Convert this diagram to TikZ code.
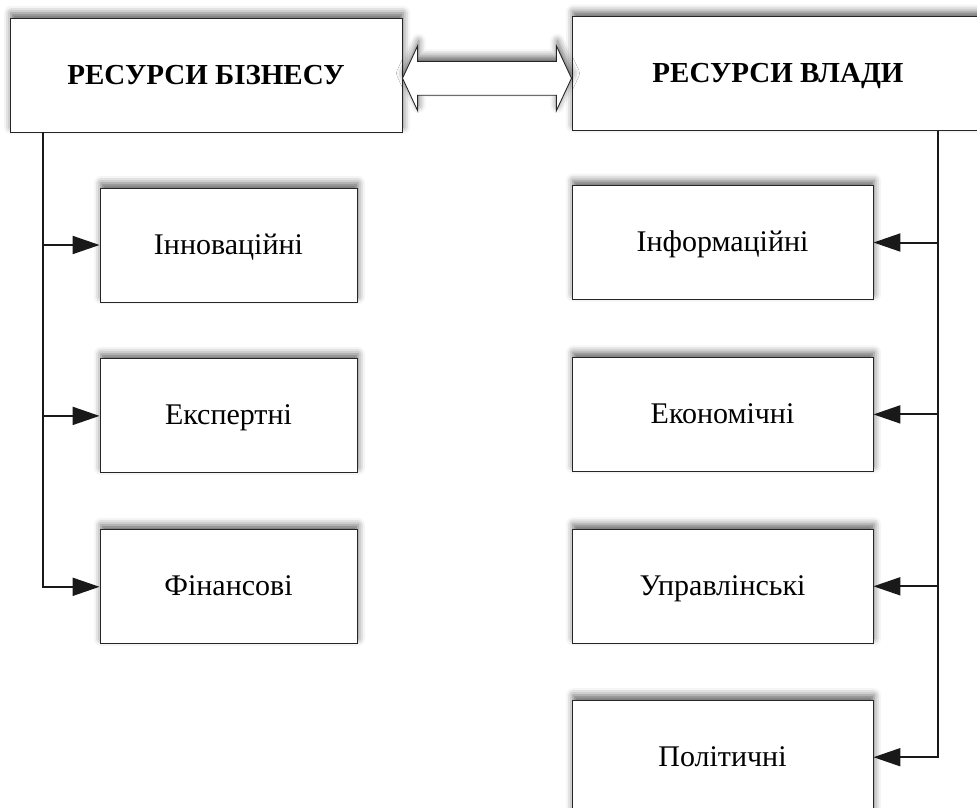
\documentclass[tikz,border=0pt]{standalone}
\usepackage{fontspec}
\setmainfont{Liberation Serif}
\usetikzlibrary{positioning, arrows.meta, shadows.blur, shapes.arrows, calc}

\begin{document}
\begin{tikzpicture}[
    x=1pt, y=-1pt,
    node distance=56pt,
    every node/.style={draw=black!85, fill=white, line width=0.9pt, text height=22pt, text depth=4pt,
        blur shadow={shadow xshift=1pt, shadow yshift=5pt, shadow blur radius=7pt, shadow opacity=60}},
    head/.style={minimum width=392pt, minimum height=114pt, font=\fontsize{29}{32}\selectfont\bfseries},
    item/.style={minimum height=114pt, font=\fontsize{30}{34}\selectfont},
    link/.style={double arrow, minimum height=169pt, inner xsep=0pt, inner ysep=16.5pt,
        text height=0pt, text depth=0pt,
        double arrow head extend=15.5pt, double arrow tip angle=130},
    arrow/.style={-{Triangle[length=27pt, width=18pt]}, line width=2pt, black!90}
]
    \path[use as bounding box, clip] (0,0) rectangle (977,807);

    % Top boxes
    \node[head] (BR) at (206,75) {РЕСУРСИ БІЗНЕСУ};
    \node[head, minimum width=412pt] (GR) at (778,73.5) {РЕСУРСИ ВЛАДИ};
    \node[link] (L) at ($(BR.east)!0.5!(GR.west)+(0,4)$) {};

    % Business resources
    \node[item, minimum width=257pt] (Inn) at (228.5,245) {Інноваційні};
    \node[item, minimum width=257pt, below=of Inn] (Exp) {Експертні};
    \node[item, minimum width=257pt, below=of Exp] (Fin) {Фінансові};

    % Government resources
    \node[item, minimum width=301pt] (Inf) at (722.5,242.5) {Інформаційні};
    \node[item, minimum width=301pt, below=57pt of Inf] (Eko) {Економічні};
    \node[item, minimum width=301pt, below=57pt of Eko] (Upr) {Управлінські};
    \node[item, minimum width=301pt, below=of Upr] (Pol) {Політичні};

    % Arrows
    \coordinate (Lbus) at ([xshift=33pt]BR.south west);
    \draw[arrow] (Lbus) |- (Fin.west);
    \draw[arrow] (Lbus |- Inn.west) -- (Inn.west);
    \draw[arrow] (Lbus |- Exp.west) -- (Exp.west);

    \coordinate (Rbus) at ([xshift=366pt]GR.south west);
    \draw[arrow] (Rbus) |- (Pol.east);
    \draw[arrow] (Rbus |- Inf.east) -- (Inf.east);
    \draw[arrow] (Rbus |- Eko.east) -- (Eko.east);
    \draw[arrow] (Rbus |- Upr.east) -- (Upr.east);
\end{tikzpicture}
\end{document}
